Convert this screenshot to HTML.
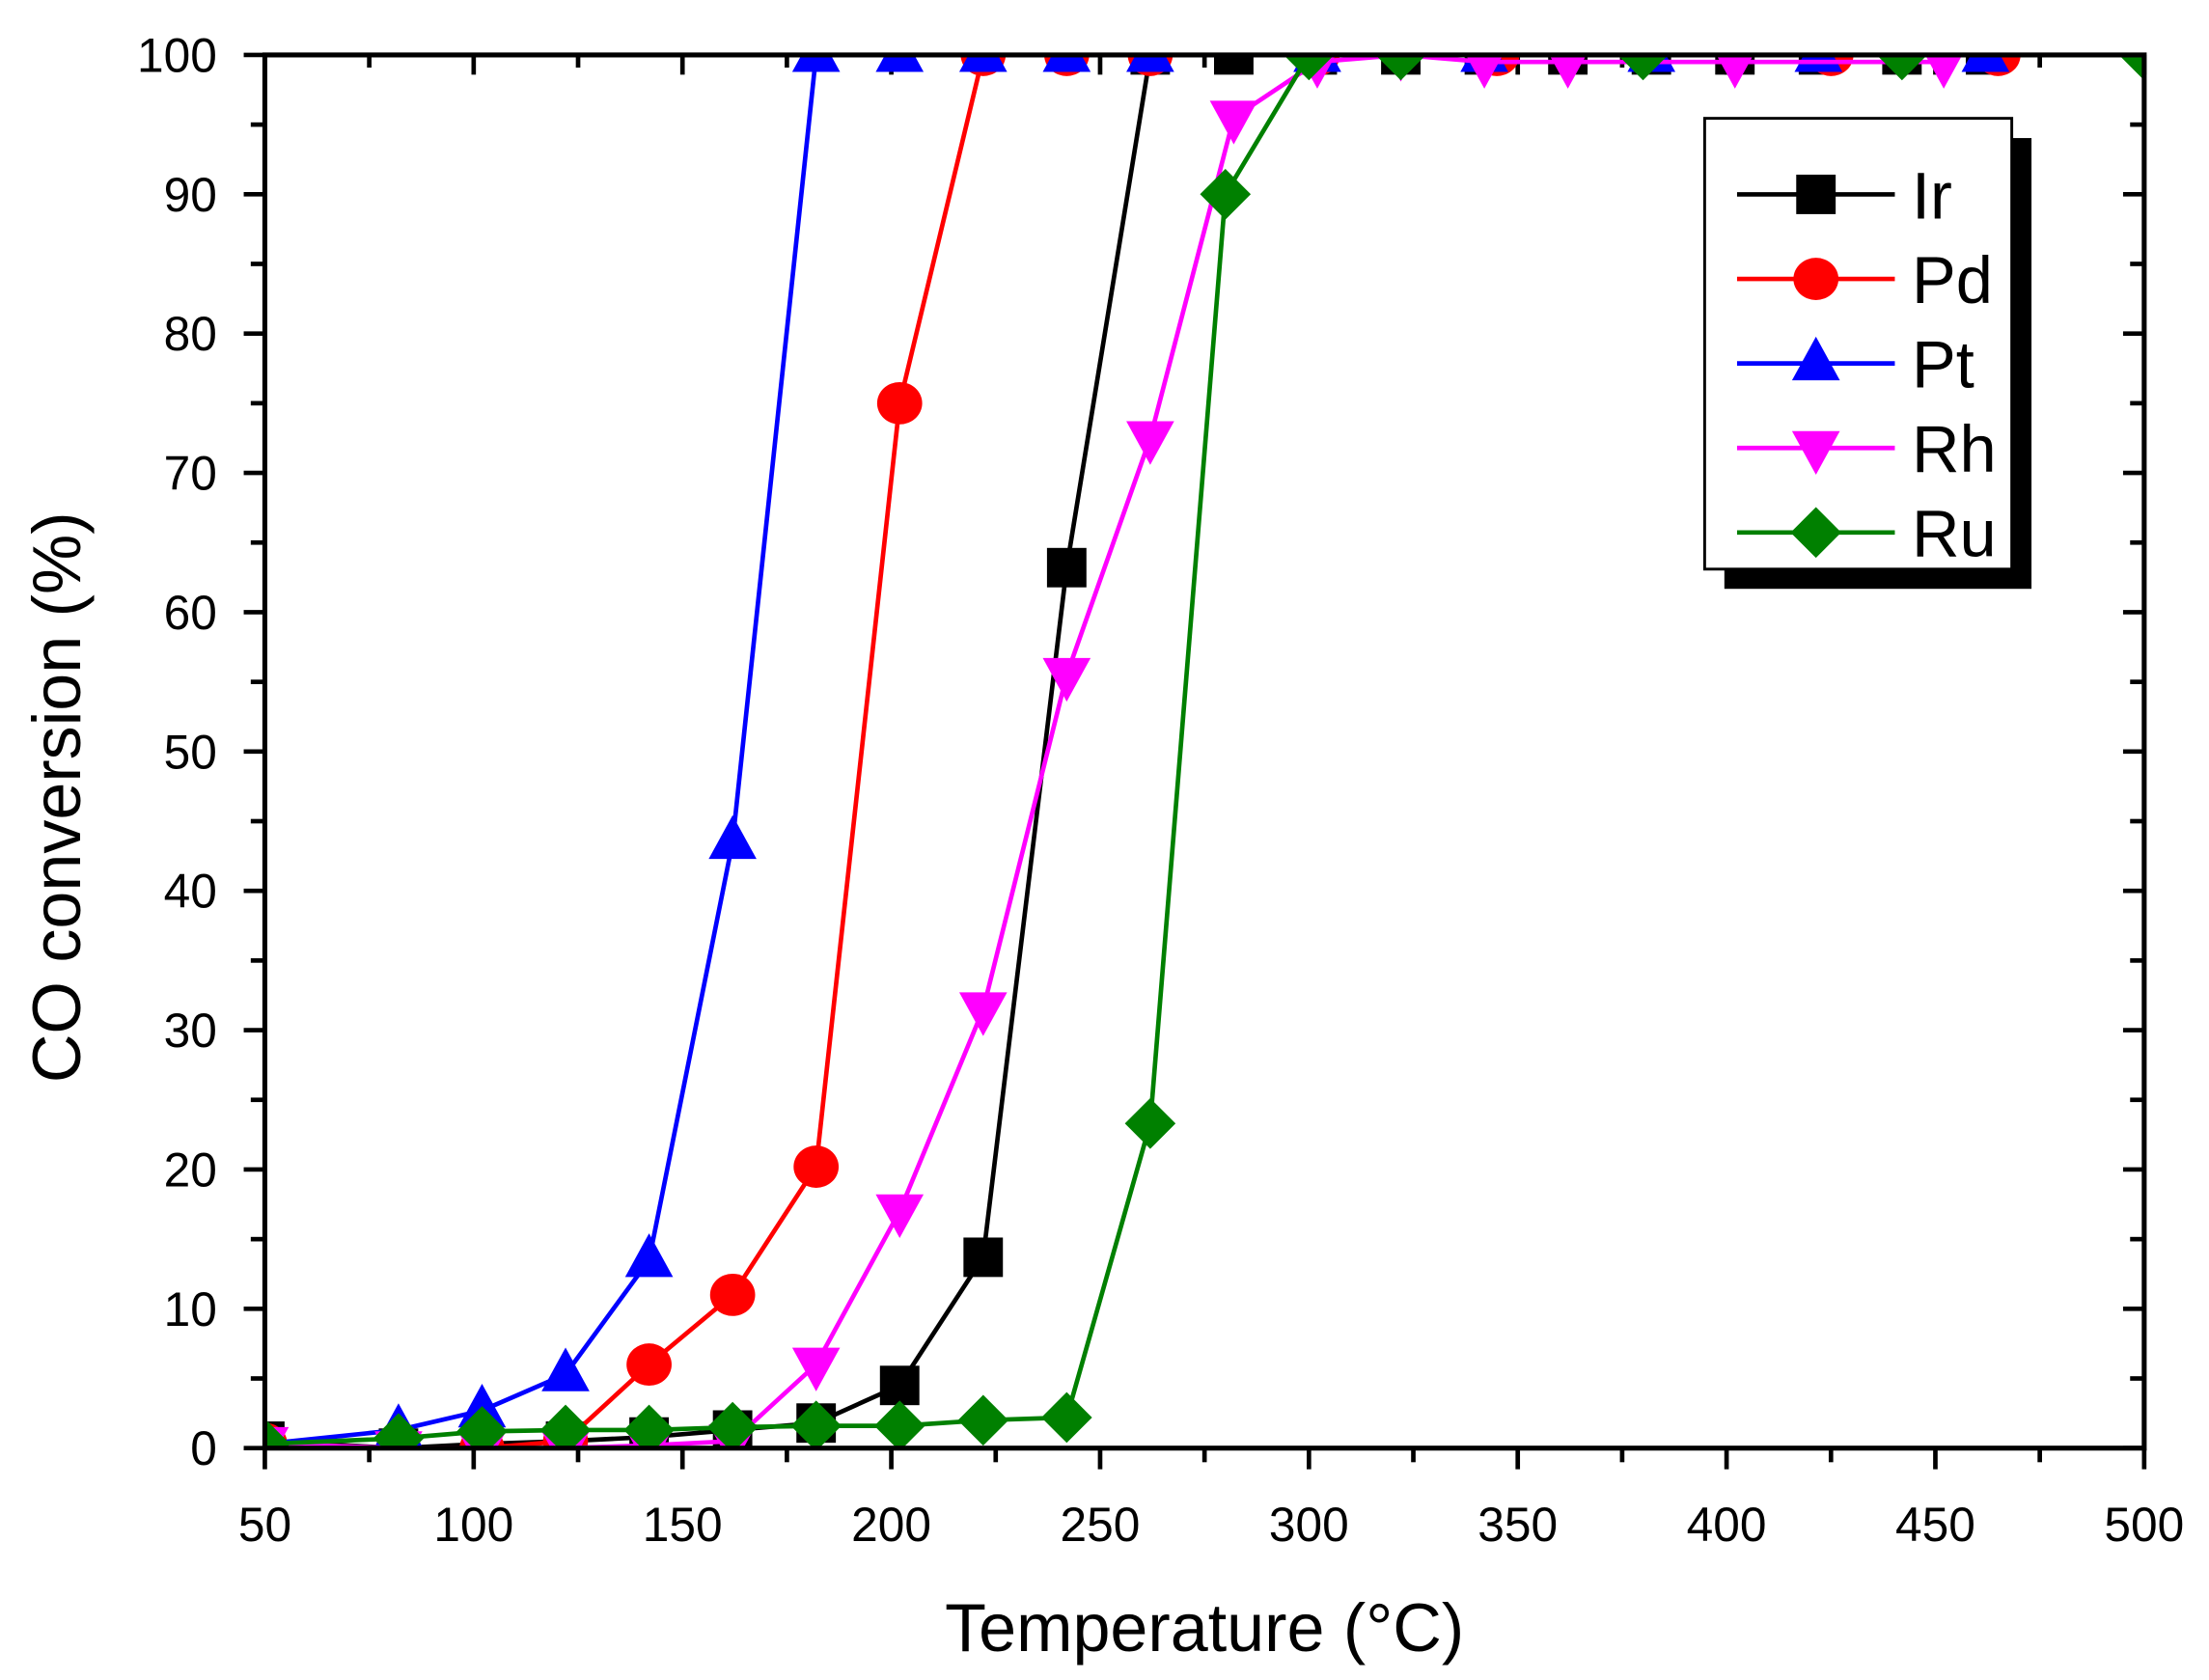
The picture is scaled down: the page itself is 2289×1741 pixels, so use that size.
<!DOCTYPE html>
<html><head><meta charset="utf-8"><style>html,body{margin:0;padding:0;background:#fff}svg{display:block}</style></head>
<body>
<svg id="s" width="2289" height="1741" viewBox="0 0 1568 1192.6" preserveAspectRatio="none" xmlns="http://www.w3.org/2000/svg" font-family="Liberation Sans, Arial, sans-serif">
</svg>
<script>
const S=document.getElementById('s');
const L=188,R=1522,T=39,B=1028;
const X=t=>L+(t-50)*(R-L)/450, Y=v=>B-v*(B-T)/100;
let h='';
for(let t=50;t<=500;t+=25){const x=X(t),maj=(t%50==0);
 h+=`<line x1="${x}" y1="${B}" x2="${x}" y2="${B+(maj?15:10)}" stroke="#000" stroke-width="3.2"/>`;
 h+=`<line x1="${x}" y1="${T}" x2="${x}" y2="${T+(maj?14:9)}" stroke="#000" stroke-width="3.2"/>`;
 if(maj)h+=`<text x="${x}" y="${B+66}" font-size="34" text-anchor="middle">${t}</text>`;}
for(let v=0;v<=100;v+=5){const y=Y(v),maj=(v%10==0);
 h+=`<line x1="${L}" y1="${y}" x2="${L-(maj?15:10)}" y2="${y}" stroke="#000" stroke-width="3.2"/>`;
 h+=`<line x1="${R}" y1="${y}" x2="${R-(maj?15:10)}" y2="${y}" stroke="#000" stroke-width="3.2"/>`;
 if(maj)h+=`<text x="${L-34}" y="${y+12}" font-size="34" text-anchor="end">${v}</text>`;}
h+=`<text x="855" y="1172" font-size="48" text-anchor="middle">Temperature (°C)</text>`;
h+=`<text transform="translate(57,566) rotate(-90)" font-size="48" text-anchor="middle">CO conversion (%)</text>`;
const series=[
 ['#000','sq',[[50,0.5],[82,0],[102,0.3],[122,0.5],[142,0.8],[162,1.3],[182,1.8],[202,4.5],[222,13.7],[242,63.2],[262,100],[282,100],[302,100],[322,100],[342,100],[362,100],[382,100],[402,100],[422,100],[442,100],[462,100]]],
 ['#f00','ci',[[50,0.3],[82,0],[102,0],[122,0.5],[142,6],[162,11],[182,20.2],[202,75],[222,100],[242,100],[262,100],[302,100],[345,100],[425,100],[465,100]]],
 ['#00f','tu',[[50,0.3],[82,1.3],[102,2.7],[122,5.3],[142,13.5],[162,43.5],[182,100],[202,100],[222,100],[242,100],[262,100],[302,100],[342,100],[382,100],[422,100],[462,100]]],
 ['#f0f','td',[[50,0.3],[82,0],[102,0],[122,0],[142,0.2],[162,0.5],[182,6],[202,17],[222,31.5],[242,55.5],[262,72.5],[282,95.5],[302,99.5],[322,100],[342,99.5],[362,99.5],[402,99.5],[452,99.5]]],
 ['#008000','di',[[50,0.3],[82,0.7],[102,1.2],[122,1.3],[142,1.3],[162,1.5],[182,1.6],[202,1.6],[222,2],[242,2.2],[262,23.3],[280,90],[300,100],[322,100],[380,100],[442,100],[500,100]]]];
function mk(t,x,y,c){
 if(t=='sq')return `<rect x="${x-14}" y="${y-14}" width="28" height="28" fill="${c}"/>`;
 if(t=='ci')return `<ellipse cx="${x}" cy="${y}" rx="16" ry="15" fill="${c}"/>`;
 if(t=='tu')return `<polygon points="${x},${y-19} ${x-17},${y+12} ${x+17},${y+12}" fill="${c}"/>`;
 if(t=='td')return `<polygon points="${x},${y+19} ${x-17},${y-12} ${x+17},${y-12}" fill="${c}"/>`;
 return `<polygon points="${x},${y-18} ${x+18},${y} ${x},${y+18} ${x-18},${y}" fill="${c}"/>`;}
h+=`<defs><clipPath id="c"><rect x="${L}" y="${T}" width="${R-L}" height="${B-T}"/></clipPath></defs><g clip-path="url(#c)">`;
for(const [c,t,d] of series){
 h+=`<polyline fill="none" stroke="${c}" stroke-width="3.2" points="${d.map(p=>X(p[0])+','+Y(p[1])).join(' ')}"/>`;
 for(const p of d)h+=mk(t,X(p[0]),Y(p[1]),c);}
h+='</g>';
h+=`<rect x="${L}" y="${T}" width="${R-L}" height="${B-T}" fill="none" stroke="#000" stroke-width="3.5"/>`;
h+=`<rect x="1224" y="98" width="218" height="320" fill="#000"/>`;
h+=`<rect x="1210" y="84" width="218" height="320" fill="#fff" stroke="#000" stroke-width="2"/>`;
const names=['Ir','Pd','Pt','Rh','Ru'];
series.forEach((s,i)=>{const y=138+i*60;
 h+=`<line x1="1233" y1="${y}" x2="1345" y2="${y}" stroke="${s[0]}" stroke-width="3.2"/>`;
 h+=mk(s[1],1289,y,s[0]);
 h+=`<text x="1357" y="${y+17}" font-size="47">${names[i]}</text>`;});
S.innerHTML=h;
</script>
</body></html>
